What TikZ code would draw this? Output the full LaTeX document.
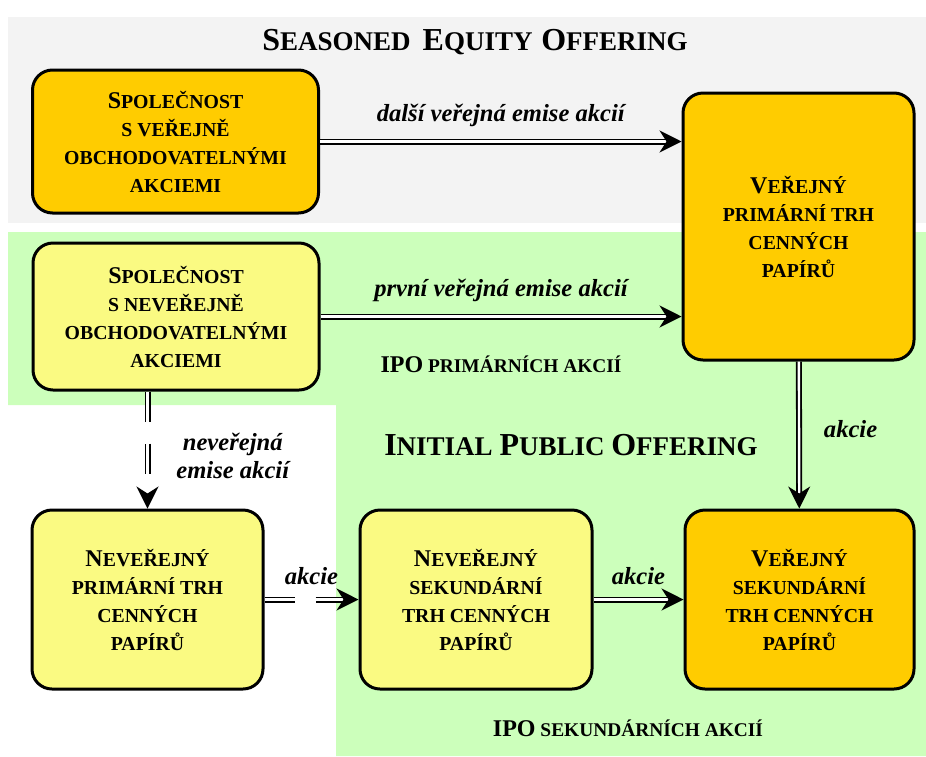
\documentclass[tikz,border=0pt]{standalone}
\usepackage{fontspec}
\setmainfont{Liberation Serif}
\usetikzlibrary{arrows.meta}
\definecolor{seoGray}{RGB}{243,243,243}
\definecolor{ipoGreen}{RGB}{204,255,187}
\definecolor{pubOrange}{RGB}{255,204,0}
\definecolor{privYellow}{RGB}{250,250,130}
\newcommand\boxinit[1]{{\fontsize{12}{14}\selectfont #1}}
\newcommand\titleinit[1]{{\fontsize{16}{19}\selectfont #1}}
\begin{document}
\begin{tikzpicture}[x=0.5pt,y=-0.5pt,
  blok/.style={draw,rectangle,rounded corners=10pt,line width=1.5pt,align=center,inner sep=0pt,font=\fontsize{9.9}{14}\selectfont\bfseries},
  verejny/.style={blok,fill=pubOrange},
  neverejny/.style={blok,fill=privYellow},
  tok/.style={double=white,double distance=1.2pt,line width=0.9pt,-{Stealth[length=11pt,width=11pt,inset=3.5pt]}},
  stitek/.style={font=\fontsize{12.3}{14}\selectfont\bfseries\itshape,align=center,inner sep=0pt},
  nadpis/.style={font=\fontsize{13.5}{16}\selectfont\bfseries},
  poznamka/.style={font=\fontsize{9.7}{14}\selectfont\bfseries}]
\useasboundingbox (0,0) rectangle (926,756);
% pozadi
\fill[seoGray] (8,17) rectangle (926,223);
\fill[ipoGreen] (8,232) -- (926,232) -- (926,756) -- (336,756) -- (336,405) -- (8,405) -- cycle;
\node[nadpis] (SEO) at (475,42) {\titleinit{S}EASONED\hspace{6pt}\titleinit{E}QUITY\hspace{1pt} \titleinit{O}FFERING};
\node[nadpis] (IPO) at (571,445) {\titleinit{I}NITIAL \titleinit{P}UBLIC \titleinit{O}FFERING};
\node[poznamka] (IPOS) at (628,728) {\boxinit{IPO} SEKUNDÁRNÍCH AKCIÍ};
% bloky
\node[verejny,minimum width=143pt,minimum height=71.5pt] (SVE) at (175.5,141.5) {\boxinit{S}POLEČNOST\\S VEŘEJNĚ\\OBCHODOVATELNÝMI\\AKCIEMI};
\node[verejny,minimum width=115.5pt,minimum height=133.5pt] (PRH) at (798.5,226.5) {\boxinit{V}EŘEJNÝ\\PRIMÁRNÍ TRH\\CENNÝCH\\PAPÍRŮ};
\node[neverejny,minimum width=143pt,minimum height=73.5pt] (SNE) at (176,316.5) {\boxinit{S}POLEČNOST\\S NEVEŘEJNĚ\\OBCHODOVATELNÝMI\\AKCIEMI};
\node[neverejny,minimum width=115.5pt,minimum height=89.5pt] (NPT) at (147.5,599.5) {\boxinit{N}EVEŘEJNÝ\\PRIMÁRNÍ TRH\\CENNÝCH\\PAPÍRŮ};
\node[neverejny,minimum width=116pt,minimum height=89.5pt] (NST) at (476,599.5) {\boxinit{N}EVEŘEJNÝ\\SEKUNDÁRNÍ\\TRH CENNÝCH\\PAPÍRŮ};
\node[verejny,minimum width=114.5pt,minimum height=89.5pt] (VST) at (799.5,599.5) {\boxinit{V}EŘEJNÝ\\SEKUNDÁRNÍ\\TRH CENNÝCH\\PAPÍRŮ};
% toky
\draw[tok] (SVE.east) -- node[stitek,above=7pt] {další veřejná emise akcií} (SVE.east -| PRH.west);
\draw[tok] (SNE.east) -- node[stitek,above=7pt] {první veřejná emise akcií}
  node[poznamka,below=16pt] {\boxinit{IPO} PRIMÁRNÍCH AKCIÍ} (SNE.east -| PRH.west);
\draw[tok] (PRH) -- node[stitek,right=12pt,yshift=3pt] {akcie} (VST);
\draw[tok,dash pattern=on 15pt off 11pt] (NPT.north |- SNE.south) -- node[stitek,right=14pt,yshift=-3pt] {neveřejná\\emise akcií} (NPT.north);
\draw[tok,dash pattern=on 15pt off 10.5pt] (NPT) -- node[stitek,above=7pt] {akcie} (NST);
\draw[tok] (NST) -- node[stitek,above=7pt] {akcie} (VST);
\end{tikzpicture}
\end{document}
